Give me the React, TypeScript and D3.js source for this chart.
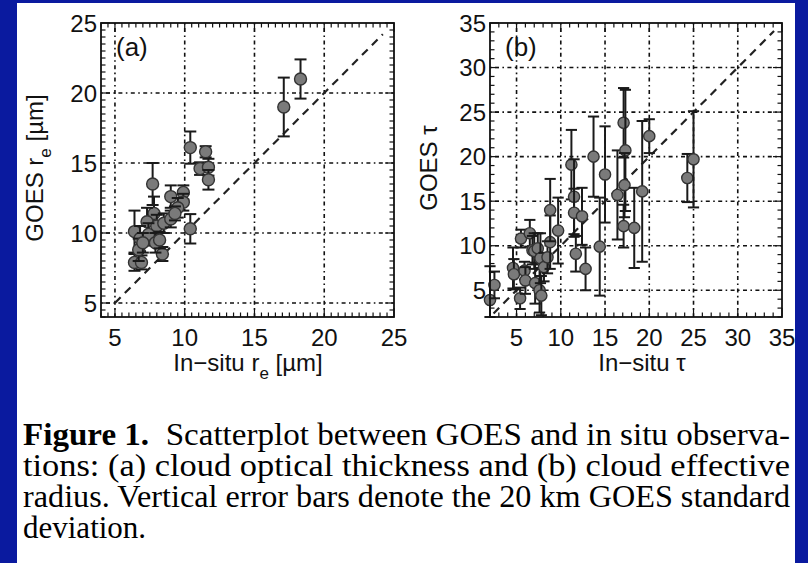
import React from "react";
import * as d3 from "d3";

// ---------- data ----------
// panel (a): in-situ re, GOES re, GOES std
const reInSitu = [17.1, 18.3, 10.4, 11.5, 11.1, 11.7, 11.7, 10.4, 7.7, 6.4, 6.4, 6.9, 8.4, 9.0, 9.9, 9.9, 9.5, 7.8, 7.3, 8.0, 8.5, 9.0, 9.3, 6.8, 7.4, 7.9, 8.2, 6.7, 7.0];
const reGoes = [19.0, 21.0, 16.1, 15.8, 14.6, 14.7, 13.8, 10.3, 13.5, 10.1, 7.9, 7.9, 8.5, 12.6, 12.9, 12.2, 11.8, 11.4, 10.8, 10.5, 10.7, 11.0, 11.4, 9.6, 9.9, 9.3, 9.5, 8.8, 9.3];
const reStd = [2.1, 1.4, 1.15, 0.4, 0.45, 0.6, 0.7, 1.05, 1.5, 1.5, 0.6, 0.5, 0.5, 0.8, 0.5, 0.6, 0.7, 1.2, 1.0, 0.8, 0.7, 0.6, 0.5, 0.9, 0.8, 0.7, 0.6, 0.8, 0.7];
// panel (b): in-situ tau, GOES tau, GOES std
const tauInSitu = [2.0, 2.5, 4.6, 4.7, 5.5, 5.4, 5.9, 6.0, 6.5, 6.8, 7.0, 7.1, 7.4, 7.6, 7.8, 7.7, 8.1, 8.5, 8.8, 8.8, 9.7, 11.2, 11.5, 11.5, 11.7, 12.4, 12.8, 13.7, 14.4, 15.0, 16.4, 17.1, 17.3, 17.2, 17.1, 18.3, 19.2, 20.0, 24.3, 25.0];
const tauGoes = [3.9, 5.6, 7.5, 6.8, 10.8, 4.1, 7.2, 6.1, 11.4, 9.5, 9.4, 5.8, 9.7, 5.0, 4.4, 8.6, 7.6, 8.7, 10.4, 14.0, 11.7, 19.1, 15.5, 13.7, 9.1, 13.3, 7.4, 20.0, 9.9, 18.0, 15.7, 23.8, 20.7, 16.8, 12.2, 12.0, 16.1, 22.3, 17.6, 19.7];
const tauStd = [3.8, 1.5, 2.3, 1.7, 1.0, 1.2, 1.0, 1.5, 1.5, 1.6, 2.0, 2.3, 1.7, 2.5, 2.2, 2.8, 1.6, 1.8, 3.0, 3.5, 3.7, 3.9, 4.2, 2.7, 2.0, 3.2, 2.4, 4.5, 5.5, 5.4, 5.0, 3.9, 6.8, 3.6, 2.4, 4.5, 7.9, 1.9, 2.7, 5.4];

const reTicks = [5, 10, 15, 20, 25];
const tauTicks = [5, 10, 15, 20, 25, 30, 35];
const reDomain = [4, 25];
const tauDomain = [2, 35];
const reDiag = [5, 24.2];
const tauDiag = [2.4, 34.1];

const captionLines = [
  "Scatterplot between GOES and in situ observa-",
  "tions: (a) cloud optical thickness and (b) cloud effective",
  "radius. Vertical error bars denote the 20 km GOES standard",
  "deviation.",
];
const captionBold = "Figure 1.";

const W = 808;
const H = 563;
const SANS = "'Liberation Sans', Arial, Helvetica, sans-serif";
const SERIF = "'Liberation Serif', 'Times New Roman', serif";

type PanelProps = {
  left: number; right: number; top: number; bottom: number;
  domain: number[]; ticks: number[]; minorStep: number;
  xs: number[]; ys: number[]; es: number[]; diag: number[];
  r: number; label: string;
};

function Panel(p: PanelProps) {
  const x = d3.scaleLinear().domain(p.domain).range([p.left, p.right]);
  const y = d3.scaleLinear().domain(p.domain).range([p.bottom, p.top]);
  const minor = d3.range(Math.ceil(p.domain[0] / p.minorStep) * p.minorStep, p.domain[1] + 1e-9, p.minorStep);
  const grid = p.ticks.filter((t) => t > p.domain[0] && t < p.domain[1]);
  const isMajor = (v: number) => p.ticks.some((t) => Math.abs(t - v) < 1e-6);
  const ml = 9, mn = 4.5;
  const cap = p.r;
  return (
    <g>
      {grid.map((g) => (
        <line key={"gx" + g} x1={x(g)} x2={x(g)} y1={p.top} y2={p.bottom} stroke="#111" strokeWidth={1.6} strokeDasharray="1.6,3.4,4,3.4" />
      ))}
      {grid.map((g) => (
        <line key={"gy" + g} y1={y(g)} y2={y(g)} x1={p.left} x2={p.right} stroke="#111" strokeWidth={1.6} strokeDasharray="1.6,3.4,4,3.4" />
      ))}
      <line x1={x(p.diag[0])} y1={y(p.diag[0])} x2={x(p.diag[1])} y2={y(p.diag[1])} stroke="#222" strokeWidth={2.2} strokeDasharray="8,6" />
      {minor.map((v) => {
        const L = isMajor(v) ? ml : mn;
        return (
          <g key={"t" + v} stroke="#111" strokeWidth={1.2}>
            <line x1={x(v)} x2={x(v)} y1={p.bottom} y2={p.bottom - L} />
            <line x1={x(v)} x2={x(v)} y1={p.top} y2={p.top + L} />
            <line y1={y(v)} y2={y(v)} x1={p.left} x2={p.left + L} />
            <line y1={y(v)} y2={y(v)} x1={p.right} x2={p.right - L} />
          </g>
        );
      })}
      {p.xs.map((xv, i) => {
        const lo = Math.max(p.ys[i] - p.es[i], p.domain[0]);
        const hi = Math.min(p.ys[i] + p.es[i], p.domain[1]);
        const cx = x(xv);
        return (
          <g key={"p" + i}>
            <line x1={cx} x2={cx} y1={y(lo)} y2={y(hi)} stroke="#1a1a1a" strokeWidth={2} />
            <line x1={cx - cap} x2={cx + cap} y1={y(lo)} y2={y(lo)} stroke="#1a1a1a" strokeWidth={2} />
            <line x1={cx - cap} x2={cx + cap} y1={y(hi)} y2={y(hi)} stroke="#1a1a1a" strokeWidth={2} />
            <circle cx={cx} cy={y(p.ys[i])} r={p.r} fill="#7a7a7a" stroke="#333" strokeWidth={1.4} />
          </g>
        );
      })}
      <rect x={p.left} y={p.top} width={p.right - p.left} height={p.bottom - p.top} fill="none" stroke="#111" strokeWidth={1.8} />
      {p.ticks.map((t) => (
        <text key={"xl" + t} x={x(t)} y={p.bottom + 29} textAnchor="middle" fontFamily={SANS} fontSize={24} fill="#111">{t}</text>
      ))}
      {p.ticks.map((t) => (
        <text key={"yl" + t} x={p.left - 4} y={y(t) + 8.5} textAnchor="end" fontFamily={SANS} fontSize={24} fill="#111">{t}</text>
      ))}
      <text x={p.left + 15} y={p.top + 33} fontFamily={SANS} fontSize={26} fill="#111">{p.label}</text>
    </g>
  );
}

function Caption() {
  const x0 = 23, x1 = 790;
  const baselines = [445, 476, 507, 538];
  return (
    <g fontFamily={SERIF} fontSize={31} fill="#000">
      {captionLines.map((line, i) =>
        i < captionLines.length - 1 ? (
          <text key={i} x={x0} y={baselines[i]} textLength={x1 - x0} lengthAdjust="spacingAndGlyphs">
            {i === 0 ? (
              <>
                <tspan fontWeight="bold">{captionBold}</tspan>
                <tspan>{"\u00a0 " + line}</tspan>
              </>
            ) : line}
          </text>
        ) : (
          <text key={i} x={x0} y={baselines[i]}>{line}</text>
        )
      )}
    </g>
  );
}

export default function App() {
  return (
    <div style={{ position: "fixed", left: 0, top: 0 }}>
      <svg width={W} height={H} style={{ display: "block" }}>
        <rect x={0} y={0} width={W} height={H} fill="#0a1a9f" />
        <rect x={17} y={3} width={778} height={H - 3} fill="#ffffff" />
        <Panel left={101} right={394} top={23} bottom={317} domain={reDomain} ticks={reTicks} minorStep={0.5}
          xs={reInSitu} ys={reGoes} es={reStd} diag={reDiag} r={6} label="(a)" />
        <Panel left={490} right={782} top={23} bottom={317} domain={tauDomain} ticks={tauTicks} minorStep={1}
          xs={tauInSitu} ys={tauGoes} es={tauStd} diag={tauDiag} r={5.6} label="(b)" />
        <text x={248} y={371} textAnchor="middle" fontFamily={SANS} fontSize={24} fill="#111">
          In−situ r<tspan dy={8} fontSize={17}>e</tspan><tspan dy={-8}> [µm]</tspan>
        </text>
        <text transform="translate(43,168) rotate(-90)" textAnchor="middle" fontFamily={SANS} fontSize={24} fill="#111">
          GOES r<tspan dy={8} fontSize={17}>e</tspan><tspan dy={-8}> [µm]</tspan>
        </text>
        <text x={642} y={371} textAnchor="middle" fontFamily={SANS} fontSize={24} fill="#111">In−situ τ</text>
        <text transform="translate(437,168) rotate(-90)" textAnchor="middle" fontFamily={SANS} fontSize={24} fill="#111">GOES τ</text>
        <Caption />
      </svg>
    </div>
  );
}
